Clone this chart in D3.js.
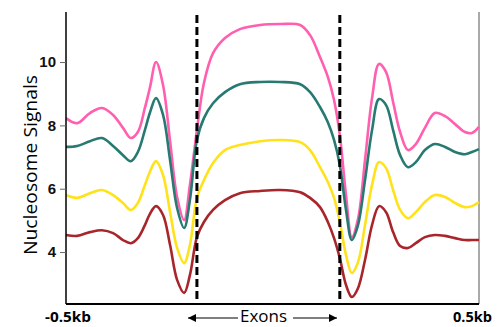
<!DOCTYPE html>
<html>
<head>
<meta charset="utf-8">
<script src="https://cdn.jsdelivr.net/npm/d3@7"></script>
<style>
  body { margin: 0; background: #fff; }
  svg { font-family: "Open Sans", "Noto Sans", sans-serif; }
</style>
</head>
<body>
<div id="chart"></div>
<script>
// position along the region, 0 = -0.5kb, 100 = 0.5kb
var positions = [0, 2.7, 5.8, 8.7, 11.4, 13.8, 15.7, 17.4, 19.1, 20.3, 21.8, 23.5, 25.2, 26.9, 28.6, 30.0, 31.7, 33.4, 35.6, 38.5, 42.1, 47.0, 51.8, 56.7, 59.1, 61.5, 63.4, 64.9, 66.3, 67.8, 69.2, 70.7, 72.4, 74.1, 75.8, 77.5, 79.2, 80.9, 82.8, 84.7, 86.9, 89.3, 91.8, 94.2, 96.6, 98.3, 100];
var pinkSeries   = [8.23, 8.07, 8.39, 8.55, 8.33, 7.92, 7.60, 7.79, 8.55, 9.18, 10.00, 9.27, 7.50, 5.74, 5.01, 6.12, 7.85, 9.34, 10.28, 10.76, 11.04, 11.17, 11.20, 11.17, 10.85, 10.16, 9.53, 8.80, 7.69, 5.80, 4.47, 5.04, 6.90, 8.86, 9.94, 9.68, 8.74, 7.79, 7.22, 7.41, 7.92, 8.39, 8.29, 8.04, 7.79, 7.76, 7.95];
var tealSeries   = [7.32, 7.35, 7.50, 7.60, 7.35, 7.06, 6.87, 7.16, 7.85, 8.39, 8.86, 8.33, 6.90, 5.39, 4.76, 5.64, 7.54, 8.23, 8.70, 9.05, 9.30, 9.37, 9.37, 9.30, 9.05, 8.58, 8.10, 7.54, 6.75, 5.33, 4.38, 4.85, 6.27, 7.85, 8.83, 8.64, 7.85, 7.06, 6.68, 6.84, 7.22, 7.41, 7.32, 7.16, 7.09, 7.16, 7.25];
var yellowSeries = [5.80, 5.71, 5.86, 5.96, 5.80, 5.55, 5.33, 5.55, 6.12, 6.53, 6.87, 6.43, 5.26, 4.13, 3.65, 4.22, 5.71, 6.27, 6.81, 7.22, 7.38, 7.50, 7.54, 7.47, 7.22, 6.68, 6.21, 5.71, 4.95, 3.91, 3.34, 3.68, 4.85, 6.12, 6.84, 6.65, 5.96, 5.33, 5.07, 5.26, 5.58, 5.80, 5.74, 5.55, 5.42, 5.45, 5.58];
var redSeries    = [4.54, 4.51, 4.63, 4.69, 4.60, 4.38, 4.28, 4.44, 4.85, 5.20, 5.45, 5.17, 4.22, 3.12, 2.71, 3.27, 4.47, 4.95, 5.33, 5.64, 5.86, 5.93, 5.96, 5.89, 5.71, 5.42, 4.95, 4.44, 3.81, 2.96, 2.58, 2.86, 3.75, 4.85, 5.45, 5.26, 4.63, 4.19, 4.13, 4.28, 4.47, 4.54, 4.51, 4.44, 4.38, 4.38, 4.38];
var yTicks = [4, 6, 8, 10];
var exonBounds = [31.7, 66.3];

var width = 497, height = 327;
var margin = { top: 12, right: 18, bottom: 23, left: 66 };

var svg = d3.select("#chart").append("svg")
  .attr("width", width)
  .attr("height", height);

var x = d3.scaleLinear().domain([0, 100]).range([margin.left, width - margin.right]);
var y = d3.scaleLinear().domain([2.36, 11.58]).range([height - margin.bottom, margin.top]);

var series = [
  { values: pinkSeries,   color: "#ff5fae" },
  { values: tealSeries,   color: "#267a72" },
  { values: yellowSeries, color: "#ffe21a" },
  { values: redSeries,    color: "#a8262b" }
];

var line = d3.line()
  .x(function (d) { return x(d[0]); })
  .y(function (d) { return y(d[1]); })
  .curve(d3.curveCatmullRom.alpha(0.5));

// right border
svg.append("line")
  .attr("x1", x(100)).attr("x2", x(100))
  .attr("y1", margin.top).attr("y2", height - margin.bottom)
  .attr("stroke", "#555").attr("stroke-width", 1);

series.forEach(function (s) {
  svg.append("path")
    .datum(positions.map(function (p, i) { return [p, s.values[i]]; }))
    .attr("d", line)
    .attr("fill", "none")
    .attr("stroke", s.color)
    .attr("stroke-width", 2.6)
    .attr("stroke-linejoin", "round");
});

// exon boundaries
svg.selectAll(".exon")
  .data(exonBounds)
  .enter().append("line")
  .attr("x1", function (d) { return x(d); })
  .attr("x2", function (d) { return x(d); })
  .attr("y1", 15)
  .attr("y2", height - margin.bottom)
  .attr("stroke", "#000")
  .attr("stroke-width", 3)
  .attr("stroke-dasharray", "8,4");

// y axis
var yAxis = d3.axisLeft(y).tickValues(yTicks).tickSize(6).tickPadding(4);
var gy = svg.append("g")
  .attr("transform", "translate(" + margin.left + ",0)")
  .call(yAxis);
gy.select(".domain").attr("stroke", "#000").attr("stroke-width", 1.5)
  .attr("d", "M0," + margin.top + "V" + (height - margin.bottom));
gy.selectAll(".tick line").attr("stroke", "#666");
gy.selectAll(".tick text")
  .attr("fill", "#111")
  .style("font-size", "15px")
  .style("font-weight", "600");

// x axis line
svg.append("line")
  .attr("x1", x(0)).attr("x2", x(100))
  .attr("y1", height - margin.bottom).attr("y2", height - margin.bottom)
  .attr("stroke", "#000").attr("stroke-width", 2);

svg.append("text")
  .attr("transform", "translate(37,165) rotate(-90)")
  .attr("text-anchor", "middle")
  .attr("textLength", 180)
  .attr("lengthAdjust", "spacingAndGlyphs")
  .style("font-size", "19px")
  .text("Nucleosome Signals");

svg.append("text")
  .attr("x", 45).attr("y", 322)
  .attr("textLength", 46)
  .attr("lengthAdjust", "spacingAndGlyphs")
  .style("font-size", "14px").style("font-weight", "700")
  .text("-0.5kb");
svg.append("text")
  .attr("x", 453).attr("y", 322)
  .attr("textLength", 39)
  .attr("lengthAdjust", "spacingAndGlyphs")
  .style("font-size", "14px").style("font-weight", "700")
  .text("0.5kb");

svg.append("text")
  .attr("x", 240).attr("y", 322)
  .attr("textLength", 47)
  .attr("lengthAdjust", "spacingAndGlyphs")
  .style("font-size", "16px")
  .text("Exons");

// arrows
var defs = svg.append("defs");
defs.append("marker")
  .attr("id", "head")
  .attr("viewBox", "0 0 10 10")
  .attr("refX", 10).attr("refY", 5)
  .attr("markerWidth", 10).attr("markerHeight", 8)
  .attr("markerUnits", "userSpaceOnUse")
  .attr("orient", "auto")
  .append("path").attr("d", "M0,0L10,5L0,10Z").attr("fill", "#000");

svg.append("line")
  .attr("x1", 238).attr("x2", 188)
  .attr("y1", 318).attr("y2", 318)
  .attr("stroke", "#000").attr("stroke-width", 1.2)
  .attr("marker-end", "url(#head)");
svg.append("line")
  .attr("x1", 293).attr("x2", 337)
  .attr("y1", 318).attr("y2", 318)
  .attr("stroke", "#000").attr("stroke-width", 1.2)
  .attr("marker-end", "url(#head)");
</script>
</body>
</html>
